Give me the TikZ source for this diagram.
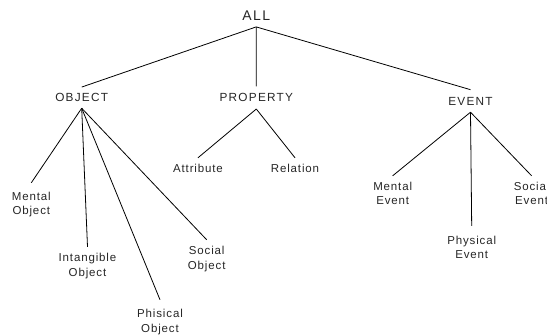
\documentclass[tikz,border=0pt]{standalone}
\usepackage{fontspec}
\setmainfont{Liberation Sans}
\newfontfamily\headfont{Liberation Sans}[LetterSpace=10.5]
\newfontfamily\leaffont{Liberation Sans}[LetterSpace=7.5]
\begin{document}
\begin{tikzpicture}[x=1pt,y=-1pt,
  root/.style={font=\headfont\fontsize{14}{16}\selectfont, text=black!85, anchor=base, inner xsep=0pt, inner ysep=6.7pt},
  head/.style={font=\headfont\fontsize{11.8}{15}\selectfont, text=black!85, anchor=base, inner xsep=0pt, inner ysep=#1},
  head/.default=6.5pt,
  leaf/.style={font=\leaffont\fontsize{11.5}{14.7}\selectfont, text=black!85, align=center, anchor=base, inner xsep=0pt, inner ysep=#1},
  leaf/.default=7pt,
  link/.style={line width=0.8pt, black}]
\clip (0,0) rectangle (547,335);

% root and the three main categories (nodes placed on their baselines)
\node[root]        (all)  at (256.2,20)  {ALL};
\node[head=6.2pt]  (obj)  at (81.7,101.7)  {OBJECT};
\node[head=7pt]    (prop) at (256.3,101.7) {PROPERTY};
\node[head=7pt]    (evt)  at (470.5,105)   {EVENT};

% kinds of object (two-line nodes sit on the baseline of their last line)
\node[leaf=8.7pt] (mobj) at (31.3,214.7)  {Mental\\Object};
\node[leaf=6.4pt] (iobj) at (87.5,276.4)  {Intangible\\Object};
\node[leaf=9.4pt] (pobj) at (160,332.4)   {Phisical\\Object};
\node[leaf=6pt]   (sobj) at (206.7,269)   {Social\\Object};

% kinds of property
\node[leaf=6.4pt] (attr) at (198,172.7) {Attribute};
\node[leaf=6.4pt] (rel)  at (295,172.7) {Relation};

% kinds of event
\node[leaf=5.7pt] (mevt) at (392.7,204.7) {Mental\\Event};
\node[leaf=9.7pt] (pevt) at (471.7,258.7) {Physical\\Event};
\node[leaf=5.7pt] (sevt) at (531.6,204.7) {Social\\Event};

% tree edges
\draw[link] (all.south) -- (obj.north);
\draw[link] (all.south) -- (prop.north);
\draw[link] (all.south) -- (evt.north);

\draw[link] (obj.south) -- (mobj.north);
\draw[link] (obj.south) -- (iobj.north);
\draw[link] (obj.south) -- (pobj.north);
\draw[link] (obj.south) -- (sobj.north);

\draw[link] (prop.south) -- (attr.north);
\draw[link] (prop.south) -- (rel.north);

\draw[link] (evt.south) -- (mevt.north);
\draw[link] (evt.south) -- (pevt.north);
\draw[link] (evt.south) -- (sevt.north);
\end{tikzpicture}
\end{document}
